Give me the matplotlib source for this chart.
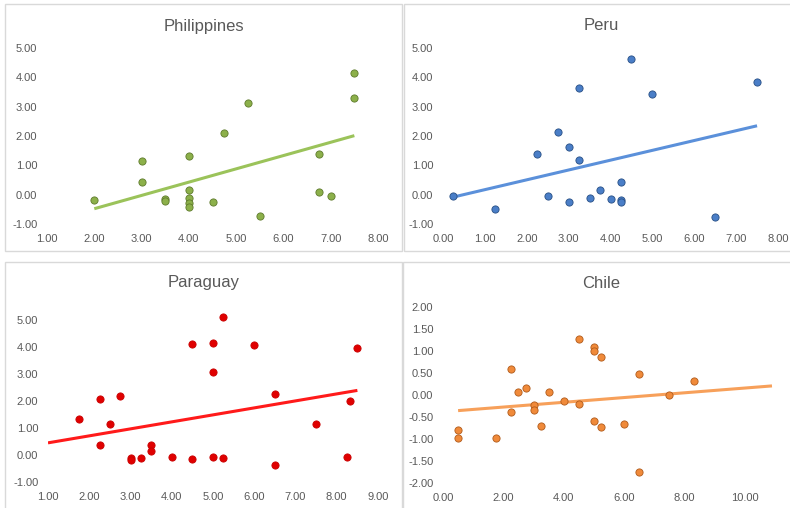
import numpy as np
import matplotlib
matplotlib.use("Agg")
import matplotlib.pyplot as plt
from matplotlib.patches import Rectangle

plt.rcParams['font.family'] = ['Liberation Sans', 'DejaVu Sans']

# ---------------- data ----------------
ph_x = [2.0, 3.0, 3.0, 3.5, 3.5, 4.0, 4.0, 4.0, 4.0, 4.0, 4.5, 4.75, 5.25, 5.5, 6.75, 6.75, 7.0, 7.5, 7.5]
ph_y = [-0.17, 1.14, 0.42, -0.14, -0.20, 1.33, 0.17, -0.11, -0.28, -0.42, -0.25, 2.10, 3.13, -0.74, 1.39, 0.09, -0.06, 4.15, 3.28]

pe_x = [0.25, 1.25, 2.25, 2.5, 2.75, 3.0, 3.0, 3.25, 3.25, 3.5, 3.75, 4.0, 4.25, 4.25, 4.25, 4.5, 5.0, 6.5, 7.5]
pe_y = [-0.06, -0.48, 1.40, -0.03, 2.14, 1.64, -0.26, 3.63, 1.17, -0.13, 0.17, -0.16, 0.43, -0.17, -0.24, 4.63, 3.44, -0.77, 3.83]

pa_x = [1.75, 2.25, 2.25, 2.5, 2.75, 3.0, 3.0, 3.25, 3.5, 3.5, 4.0, 4.5, 4.5, 5.0, 5.0, 5.0, 5.25, 5.25, 6.0, 6.5, 6.5, 7.5, 8.25, 8.33, 8.5]
pa_y = [1.32, 2.07, 0.37, 1.15, 2.18, -0.11, -0.19, -0.11, 0.37, 0.14, -0.09, -0.15, 4.12, 4.14, 3.08, -0.09, 5.12, -0.10, 4.07, 2.26, -0.36, 1.13, -0.07, 1.99, 3.97]

ch_x = [0.5, 0.5, 1.75, 2.25, 2.25, 2.5, 2.75, 3.0, 3.0, 3.25, 3.5, 4.0, 4.5, 4.5, 5.0, 5.0, 5.0, 5.25, 5.25, 6.0, 6.5, 6.5, 7.5, 8.33]
ch_y = [-0.79, -0.97, -0.98, 0.60, -0.39, 0.075, 0.16, -0.23, -0.35, -0.70, 0.07, -0.13, 1.28, -0.20, 1.10, 1.00, -0.60, 0.86, -0.72, -0.65, 0.48, -1.76, 0.0, 0.32]

titles = ["Philippines", "Peru", "Paraguay", "Chile"]

# linear trendlines: slope, intercept, x-range
trend_slope = [0.453, 0.335, 0.259, 0.054]
trend_intercept = [-1.385, -0.164, 0.191, -0.382]
trend_range = [(2.0, 7.5), (0.25, 7.5), (1.0, 8.5), (0.5, 10.9)]

# ---------------- layout ----------------
W, H = 790, 508
fig = plt.figure(figsize=(W / 100, H / 100), dpi=100)
fig.patch.set_facecolor('white')

def px_axes(x0, x1, y_top, y_bot):
    return fig.add_axes([x0 / W, 1 - y_bot / H, (x1 - x0) / W, (y_bot - y_top) / H])

# panel borders
boxes = [(5, 4, 397, 247), (404, 4, 390, 247), (5, 262, 397, 250), (403, 262, 391, 250)]
for (bx, by, bw, bh) in boxes:
    fig.patches.append(Rectangle((bx / W, 1 - (by + bh) / H), bw / W, bh / H,
                                 transform=fig.transFigure, fill=False,
                                 edgecolor='#D9D9D9', linewidth=1.0))

panels = [
    dict(x=ph_x, y=ph_y, ax=(47, 378, 48, 224), xlim=(1, 8), xt=np.arange(1, 9, 1), ylim=(-1, 5), yt=np.arange(-1, 6, 1),
         fc='#8CB04A', ec='#5E7A2C', lc='#9BC35A', title_y=26, title_x=204),
    dict(x=pe_x, y=pe_y, ax=(443, 778, 48, 224), xlim=(0, 8), xt=np.arange(0, 9, 1), ylim=(-1, 5), yt=np.arange(-1, 6, 1),
         fc='#4A7EC7', ec='#284F85', lc='#5B90DA', title_y=26, title_x=601),
    dict(x=pa_x, y=pa_y, ax=(48, 378, 293, 482), xlim=(1, 9), xt=np.arange(1, 10, 1), ylim=(-1, 6), yt=np.arange(-1, 6, 1),
         fc='#E00000', ec='#C80000', lc='#FF1A1A', title_y=283, title_x=204),
    dict(x=ch_x, y=ch_y, ax=(443, 775, 307, 483), xlim=(0, 11), xt=np.arange(0, 11, 2), ylim=(-2, 2), yt=np.arange(-2, 2.01, 0.5),
         fc='#F08A3A', ec='#B05A1A', lc='#F7A05A', title_y=283, title_x=601),
]

gray = '#595959'
for i, (p, title) in enumerate(zip(panels, titles)):
    x0, x1, yt_, yb_ = p['ax']
    ax = px_axes(x0, x1, yt_, yb_)
    ax.set_facecolor('none')
    x = np.array(p['x']); y = np.array(p['y'])
    tx = np.array(trend_range[i])
    ax.plot(tx, trend_slope[i] * tx + trend_intercept[i], color=p['lc'], lw=2.2, zorder=2,
            solid_capstyle='butt')
    ax.scatter(x, y, s=27, c=p['fc'], edgecolors=p['ec'], linewidths=0.6, zorder=3)
    ax.set_xlim(*p['xlim']); ax.set_ylim(*p['ylim'])
    ax.set_xticks(p['xt']); ax.set_yticks(p['yt'])
    ax.set_xticklabels(['{:.2f}'.format(v) for v in p['xt']])
    ax.set_yticklabels(['{:.2f}'.format(v) for v in p['yt']])
    for s in ax.spines.values():
        s.set_visible(False)
    ax.tick_params(length=0, labelsize=8, colors=gray, pad=7)
    fig.text(p['title_x'] / W, 1 - p['title_y'] / H, title,
             ha='center', va='center', fontsize=12, color=gray)

fig.savefig('out.png', dpi=100, facecolor='white')
